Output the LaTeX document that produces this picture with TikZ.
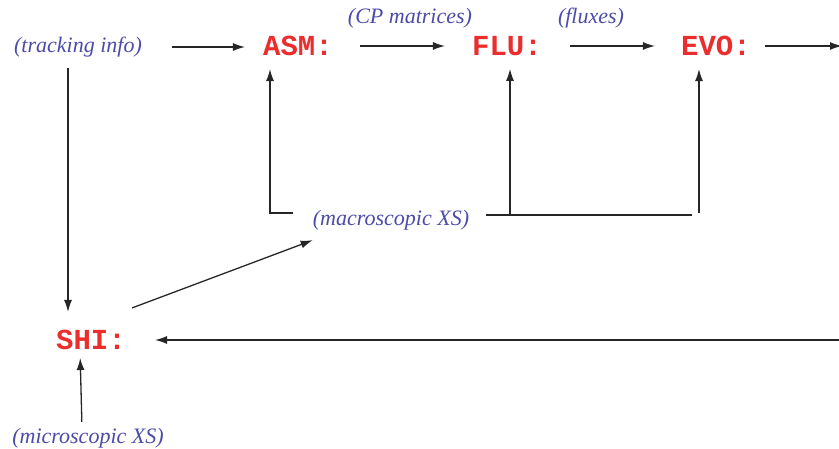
\documentclass[tikz,border=0pt]{standalone}
\usepackage{fontspec}
\setmainfont{Liberation Serif}
\newfontfamily\codefont{Liberation Mono}
\usetikzlibrary{arrows.meta}
\definecolor{modred}{RGB}{235,45,45}
\definecolor{infoblue}{RGB}{75,75,170}
\tikzset{
  module/.style={inner sep=0pt, text=modred, font=\codefont\bfseries\fontsize{29}{32}\selectfont},
  info/.style={inner sep=0pt, text=infoblue, font=\itshape\fontsize{22}{26}\selectfont},
  arr/.style={draw=black!85, line width=1.3pt, -{Latex[length=12pt,width=8pt]}},
  ln/.style={draw=black!85, line width=1.3pt},
}
\begin{document}
\begin{tikzpicture}[x=1pt,y=-1pt]
\useasboundingbox (0,0) rectangle (839,449);
% nodes
\node[info] (track) at (78,47) {(tracking info)};
\node[module] (asm) at (298,46) {ASM:};
\node[info] (cp) at (410,18) {(CP matrices)};
\node[module] (flu) at (507,46) {FLU:};
\node[info] (flux) at (591,18) {(fluxes)};
\node[module] (evo) at (716,46) {EVO:};
\node[module] (shi) at (91,340) {SHI:};
\node[info] (macro) at (391,220) {(macroscopic XS)};
\node[info] (micro) at (88,438) {(microscopic XS)};
% free ends and junctions
\coordinate (outR) at (842,47);
\coordinate (inR) at (842,340);
\coordinate (mxl) at (293,213);
\coordinate (mxr) at (486,215);
\coordinate (mxe) at (692,215);
\coordinate (flub) at (510,215);
\coordinate (evob) at (699,213);
% top row
\draw[arr, shorten <=30pt, shorten >=18pt] (track.east) -- (track.east -| asm.west);
\draw[arr, shorten <=27pt, shorten >=27pt] (asm.east) -- (asm.east -| flu.west);
\draw[arr, shorten <=28pt, shorten >=26pt] (flu.east) -- (flu.east -| evo.west);
\draw[arr, shorten <=14pt] (evo.east) -- (evo.east -| outR);
% feedback to SHI
\draw[arr, shorten >=29pt] (inR) -- (shi.east);
% tracking info down to SHI
\draw[arr, shorten <=11pt, shorten >=18pt] ([xshift=-10pt]track.south) -- ([xshift=-23pt]shi.north);
% microscopic XS up to SHI
\draw[arr, shorten <=6pt, shorten >=8pt] ([xshift=-6pt]micro.north) -- ([xshift=-11pt]shi.south);
% SHI to macroscopic XS
\draw[arr] ([shift={(6,-22)}]shi.north east) -- ([shift={(0,10)}]macro.south west);
% macroscopic XS to ASM, FLU, EVO
\draw[arr, shorten >=13pt] (mxl) -| ([xshift=-28pt]asm.south);
\draw[ln] (mxr) -- (mxe);
\draw[arr, shorten >=13pt] (flub) -- (flub |- flu.south);
\draw[arr, shorten >=13pt] (evob) -- (evob |- evo.south);
\end{tikzpicture}
\end{document}
